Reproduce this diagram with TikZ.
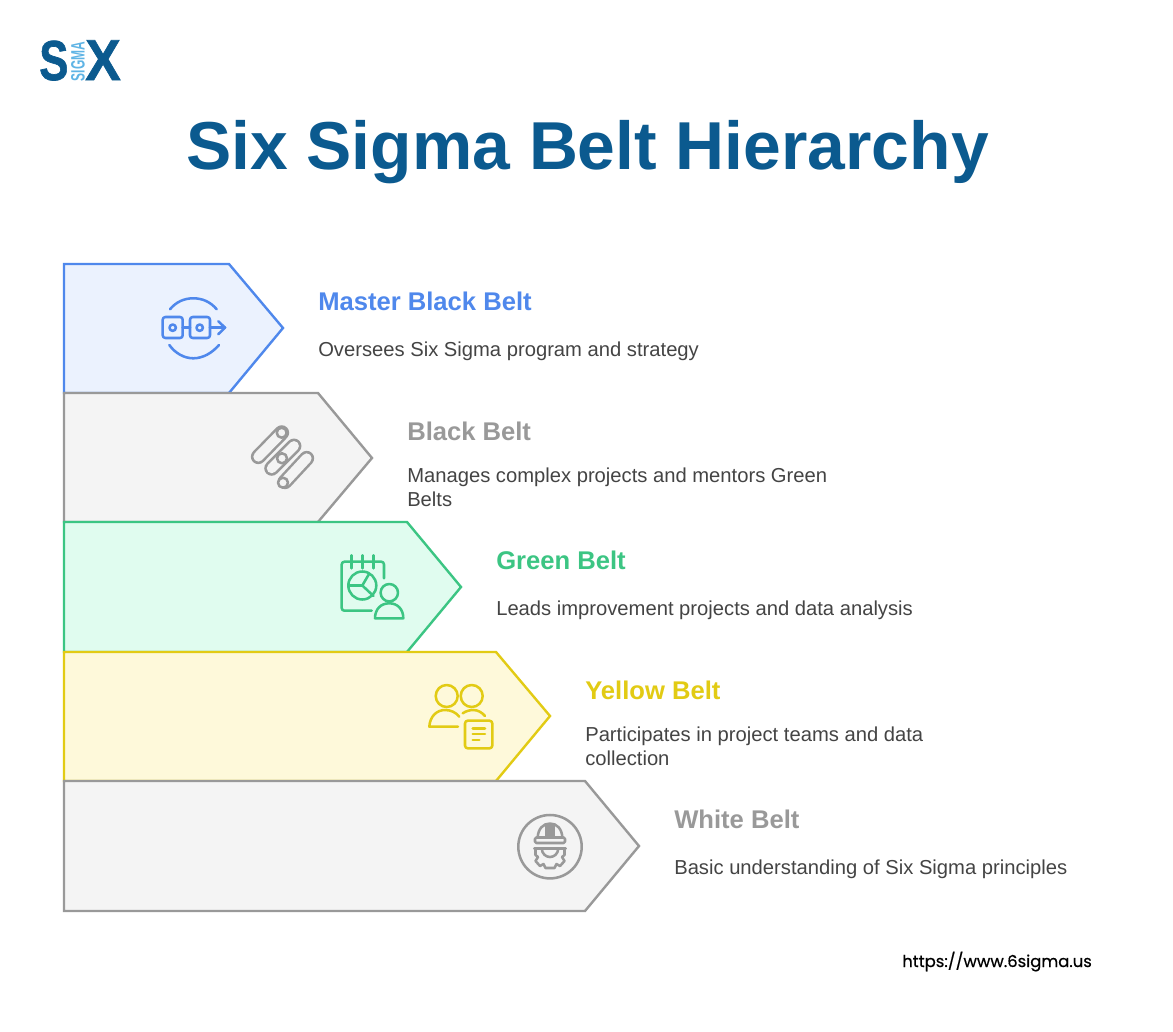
\documentclass[tikz,border=0pt]{standalone}
\usepackage{fontspec}
\setmainfont{Liberation Sans}
\newfontfamily\urlfont[FakeBold=0.5]{Poppins}
\newfontfamily\logofont[BoldFeatures={FakeBold=1.2}]{Liberation Sans}
\definecolor{bluec}{HTML}{4F88EC}\definecolor{bluef}{HTML}{EBF2FE}
\definecolor{grayc}{HTML}{999999}\definecolor{grayf}{HTML}{F4F4F4}
\definecolor{greenc}{HTML}{3CC583}\definecolor{greenf}{HTML}{E0FCEF}
\definecolor{yelc}{HTML}{E2CB14}\definecolor{yelf}{HTML}{FEF9DA}
\definecolor{titlec}{HTML}{0B5A8F}\definecolor{lightb}{HTML}{5FB4E5}
\definecolor{bodyc}{HTML}{444444}
\tikzset{
 x=0.75pt,y=-0.75pt,
 band/.style={line width=1.8pt,line join=miter},
 icon/.style={line width=1.9pt,line cap=round,line join=round},
 capsule/.style={line cap=round,double=grayf,double distance=7.4pt,line width=1.9pt},
 heading/.style={anchor=base west,inner sep=0pt,font=\fontsize{19.2}{22}\selectfont\bfseries},
 bodytext/.style={anchor=base west,inner sep=0pt,align=left,text=bodyc,font=\fontsize{15.15}{18}\selectfont},
}
\begin{document}
\begin{tikzpicture}
\useasboundingbox (0,0) rectangle (1173,1031);
\fill[white] (0,0) rectangle (1173,1031);
% logo
\node[inner sep=0pt,anchor=base west,text=titlec,font=\logofont\bfseries\fontsize{41}{41}\selectfont] (logoS) at (39,80) {\scalebox{0.8}[1.03]{S}};
\node[inner sep=0pt,anchor=base west,text=titlec,font=\logofont\bfseries\fontsize{42}{42}\selectfont] (logoX) at (85,80) {\scalebox{0.95}[1.03]{X}};
\node[inner sep=0pt,rotate=90,text=lightb,font=\bfseries\fontsize{14.5}{14.5}\selectfont] (logoM) at (78,61.5) {\scalebox{0.62}[1]{SIGMA}};
% title
\node[inner sep=0pt,anchor=base,text=titlec,font=\fontsize{50.85}{60}\bfseries\selectfont] (title) at (587.5,169) {Six Sigma Belt Hierarchy};
% bands
\draw[band,draw=bluec,fill=bluef] (64,264)--(229,264)--(283,328)--(229,393)--(64,393)--cycle;
\draw[band,draw=grayc,fill=grayf] (64,393)--(318,393)--(372,458)--(318,522)--(64,522)--cycle;
\draw[band,draw=greenc,fill=greenf] (64,522)--(407,522)--(461,587)--(407,652)--(64,652)--cycle;
\draw[band,draw=yelc,fill=yelf] (64,652)--(496,652)--(550,716)--(496,781)--(64,781)--cycle;
\draw[band,draw=grayc,fill=grayf] (64,781)--(585,781)--(639,846)--(585,911)--(64,911)--cycle;
% texts
\node[heading,text=bluec] (h1) at (318,310) {Master Black Belt};
\node[bodytext] (b1) at (318,356) {Oversees Six Sigma program and strategy};
\node[heading,text=grayc] (h2) at (407,440) {Black Belt};
\node[bodytext] (b2) at (407,482) {Manages complex projects and mentors Green};
\node[bodytext] (b2b) at (407,506) {Belts};
\node[heading,text=greenc] (h3) at (496,569) {Green Belt};
\node[bodytext] (b3) at (496,615) {Leads improvement projects and data analysis};
\node[heading,text=yelc] (h4) at (585,699) {Yellow Belt};
\node[bodytext] (b4) at (585,741) {Participates in project teams and data};
\node[bodytext] (b4b) at (585,765) {collection};
\node[heading,text=grayc] (h5) at (674,828) {White Belt};
\node[bodytext] (b5) at (674,874) {Basic understanding of Six Sigma principles};
\node[inner sep=0pt,anchor=base west,font=\urlfont\fontsize{12.3}{14}\selectfont] (url) at (902,967) {https://www.6sigma.us};
% master icon
\begin{scope}[icon,draw=bluec]
 \draw[rounded corners=2pt] (162.7,317) rectangle (182.7,338);
 \draw[rounded corners=2pt] (190,317) rectangle (210,338);
 \draw (172.7,327.7) circle[radius=3.2];
 \draw (199.7,327.7) circle[radius=3.2];
 \draw (182.7,327.7)--(190,327.7);
 \draw (210,327.7)--(225,327.7);
 \draw (218.3,321.2)--(225,327.7)--(218.3,334.2);
 \draw (170,309.3) .. controls (176,302) and (184,298.3) .. (193.3,298.3) .. controls (202.6,298.3) and (210.6,302) .. (216.7,309.3);
 \draw (169.3,345) .. controls (175,353) and (184,358.3) .. (193.3,358.3) .. controls (203,358.3) and (212,353) .. (219,345);
\end{scope}
% black belt icon
\begin{scope}[icon,draw=grayc]
 \draw[capsule] (281.7,432.7)--(258.3,456.7);
 \draw[capsule] (294,446)--(271.7,468.3);
 \draw[capsule] (306.7,458.3)--(285,481.7);
 \draw[fill=grayf] (281.7,432.7) circle[radius=5];
 \draw[fill=grayf] (282,458.3) circle[radius=5];
 \draw[fill=grayf] (283,482.7) circle[radius=5];
\end{scope}
% green icon
\begin{scope}[icon,draw=greenc]
 \draw[rounded corners=2pt] (384,578.3)--(384,561.7)--(341.7,561.7)--(341.7,610.7)--(371.7,610.7);
 \draw (351.7,555.3)--(351.7,568.3) (362.3,555.3)--(362.3,568.3) (373.3,555.3)--(373.3,568.3);
 \draw (362.3,585.5) circle[radius=14];
 \draw (369.3,573.5)--(362.3,585.5)--(348.3,585.5) (362.3,585.5)--(373.5,596);
 \draw (389.3,592.7) circle[radius=8.7];
 \draw (375,618.3) .. controls (375,609) and (381,603.3) .. (389.2,603.3) .. controls (397.4,603.3) and (403.3,609) .. (403.3,618.3)--cycle;
\end{scope}
% yellow icon
\begin{scope}[icon,draw=yelc]
 \draw (446.7,696) circle[radius=11];
 \draw (471.7,696) circle[radius=11];
 \draw (458,726.7)--(429.3,726.7) .. controls (430,716) and (437,710) .. (445,710) .. controls (451,710) and (456,712.5) .. (459.3,716.7);
 \draw (462.7,713.3) .. controls (466,711) and (470,710) .. (473.3,710) .. controls (478,710) and (482,712.5) .. (485,716);
 \draw[rounded corners=2pt] (465,720.7) rectangle (492.3,748.3);
 \draw (472.7,728.3)--(485,728.3) (472.7,734)--(485,734) (472.7,740)--(479.3,740);
\end{scope}
% white icon
\begin{scope}[icon,draw=grayc]
 \draw (550,846.7) circle[radius=31.7];
 \draw[rounded corners=1pt] (535,837.5) rectangle (565,843);
 \draw (537.7,837.5) .. controls (538,829) and (543,823.5) .. (550,823.5) .. controls (557,823.5) and (562,829) .. (562.3,837.5);
 \fill[grayc] (545,823.5) rectangle (555,837.5);
 \draw (534.3,848.5)--(565.7,848.5);
 \draw (535.5,848.5)--(535.5,855)--(538,857)--(535.5,861)--(540,866)--(543.5,864)--(545.5,868)--(554.5,868)--(556.5,864)--(560,866)--(564.5,861)--(562,857)--(564.5,855)--(564.5,848.5);
 \draw (541.7,848.5) .. controls (542,854) and (546,857) .. (550,857) .. controls (554,857) and (558,854) .. (558.3,848.5);
\end{scope}
\end{tikzpicture}
\end{document}
